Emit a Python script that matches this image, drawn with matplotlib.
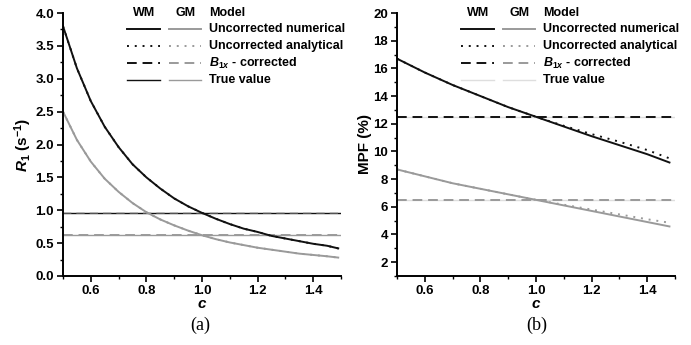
import numpy as np
import matplotlib.pyplot as plt
from matplotlib.lines import Line2D

plt.rcParams['font.family'] = ['Liberation Sans', 'DejaVu Sans']
plt.rcParams['mathtext.fontset'] = 'custom'
plt.rcParams['mathtext.rm'] = 'Liberation Sans:bold'
plt.rcParams['mathtext.it'] = 'Liberation Sans:italic:bold'
plt.rcParams['mathtext.bf'] = 'Liberation Sans:bold'

# panel (a): R1 vs c
c_a = [0.50, 0.55, 0.60, 0.65, 0.70, 0.75, 0.80, 0.85, 0.90, 0.95, 1.00,
       1.05, 1.10, 1.15, 1.20, 1.25, 1.30, 1.35, 1.40, 1.45, 1.49]
r1_wm_num = [3.80, 3.16, 2.66, 2.27, 1.96, 1.70, 1.50, 1.33, 1.18, 1.06, 0.96,
             0.87, 0.79, 0.72, 0.67, 0.61, 0.57, 0.53, 0.49, 0.46, 0.42]
r1_gm_num = [2.50, 2.07, 1.74, 1.48, 1.28, 1.11, 0.97, 0.86, 0.77, 0.69, 0.62,
             0.56, 0.51, 0.47, 0.43, 0.40, 0.37, 0.34, 0.32, 0.30, 0.28]
r1_wm_ana = r1_wm_num
r1_gm_ana = r1_gm_num
r1_wm_b1 = 0.96
r1_gm_b1 = 0.62
r1_wm_true = 0.96
r1_gm_true = 0.62

# panel (b): MPF vs c
c_b = [0.50, 0.60, 0.70, 0.80, 0.90, 1.00, 1.10, 1.20, 1.30, 1.40, 1.48]
mpf_wm_num = [16.7, 15.7, 14.8, 14.0, 13.2, 12.5, 11.8, 11.1, 10.45, 9.8, 9.2]
mpf_wm_ana = [16.7, 15.7, 14.8, 14.0, 13.2, 12.5, 11.85, 11.25, 10.7, 10.1, 9.5]
mpf_gm_num = [8.7, 8.2, 7.7, 7.3, 6.9, 6.5, 6.1, 5.7, 5.3, 4.9, 4.58]
mpf_gm_ana = [8.7, 8.2, 7.7, 7.3, 6.9, 6.5, 6.15, 5.8, 5.45, 5.1, 4.85]
mpf_wm_b1 = 12.5
mpf_gm_b1 = 6.5
mpf_wm_true = 12.5
mpf_gm_true = 6.5

black = '#111111'
gray = '#9a9a9a'
faint = '#dedede'
dot = (0, (1, 3))
dash = (0, (5, 3))

fig = plt.figure(figsize=(6.91, 3.45), dpi=100)
ax1 = fig.add_axes([63 / 691, 69 / 345, 278 / 691, 263 / 345])
ax2 = fig.add_axes([397 / 691, 69 / 345, 278 / 691, 263 / 345])


def style_axes(ax):
    for s in ['top', 'right']:
        ax.spines[s].set_visible(False)
    for s in ['left', 'bottom']:
        ax.spines[s].set_linewidth(1.4)
    ax.tick_params(which='major', direction='out', length=4, width=1.2,
                   labelsize=9.5, pad=2.5)
    ax.tick_params(which='minor', direction='out', length=2.5, width=1.0)
    for lab in ax.get_xticklabels() + ax.get_yticklabels():
        lab.set_fontweight('bold')
    ax.set_xlim(0.5, 1.5)
    ax.set_xticks([0.6, 0.8, 1.0, 1.2, 1.4])
    ax.set_xticks(np.arange(0.5, 1.51, 0.1), minor=True)
    ax.set_xlabel(r'$c$', fontsize=11, labelpad=0)


def draw_legend(ax, true_wm, true_gm):
    tr = ax.transAxes
    kw = dict(transform=tr, fontsize=9, fontweight='bold', va='center')
    ax.text(0.29, 1.0, 'WM', ha='center', **kw)
    ax.text(0.44, 1.0, 'GM', ha='center', **kw)
    ax.text(0.525, 1.0, 'Model', ha='left', **kw)
    rows = [('Uncorrected numerical', '-', black, gray, 1.4),
            ('Uncorrected analytical', dot, black, gray, 1.4),
            (r'$B_{1x}$ - corrected', dash, black, gray, 1.4),
            ('True value', '-', true_wm, true_gm, 1.0)]
    ys = [0.94, 0.875, 0.81, 0.745]
    for (label, ls, cw, cg, lw), y in zip(rows, ys):
        ax.add_line(Line2D([0.23, 0.35], [y, y], transform=tr, color=cw,
                           ls=ls, lw=lw, clip_on=False))
        ax.add_line(Line2D([0.38, 0.495], [y, y], transform=tr, color=cg,
                           ls=ls, lw=lw, clip_on=False))
        ax.text(0.525, y, label, ha='left', **kw)


# (a)
ax1.axhline(r1_wm_true, color=black, lw=1.0)
ax1.axhline(r1_gm_true, color=gray, lw=1.0)
ax1.axhline(r1_wm_b1, color=gray, lw=1.2, ls=dash, alpha=0.6)
ax1.axhline(r1_gm_b1, color=gray, lw=1.4, ls=dash)
ax1.plot(c_a, r1_wm_num, color=black, lw=1.4)
ax1.plot(c_a, r1_wm_ana, color=black, lw=1.4, ls=dot)
ax1.plot(c_a, r1_gm_num, color=gray, lw=1.4)
ax1.plot(c_a, r1_gm_ana, color=gray, lw=1.4, ls=dot)
ax1.set_ylim(0, 4.0)
ax1.set_yticks(np.arange(0, 4.01, 0.5))
ax1.set_yticks(np.arange(0, 4.01, 0.25), minor=True)
ax1.yaxis.set_major_formatter(plt.FormatStrFormatter('%.1f'))
ax1.set_ylabel(r'$R_1$ (s$^{-1}$)', fontsize=11, fontweight='bold',
               labelpad=1)
style_axes(ax1)
draw_legend(ax1, black, gray)

# (b)
ax2.axhline(mpf_wm_true, color=faint, lw=1.0)
ax2.axhline(mpf_gm_true, color=faint, lw=1.0)
ax2.axhline(mpf_wm_b1, color=black, lw=1.4, ls=dash)
ax2.axhline(mpf_gm_b1, color=gray, lw=1.4, ls=dash)
ax2.plot(c_b, mpf_wm_num, color=black, lw=1.4)
ax2.plot(c_b, mpf_wm_ana, color=black, lw=1.4, ls=dot)
ax2.plot(c_b, mpf_gm_num, color=gray, lw=1.4)
ax2.plot(c_b, mpf_gm_ana, color=gray, lw=1.4, ls=dot)
ax2.set_ylim(1, 20)
ax2.set_yticks(np.arange(2, 20.1, 2))
ax2.set_yticks(np.arange(1, 20.1, 1), minor=True)
ax2.set_ylabel('MPF (%)', fontsize=11, fontweight='bold', labelpad=1)
style_axes(ax2)
draw_legend(ax2, faint, faint)

fig.text(200 / 691, 1 - 325 / 345, '(a)', ha='center', va='center',
         fontsize=13, family='Liberation Serif')
fig.text(537 / 691, 1 - 325 / 345, '(b)', ha='center', va='center',
         fontsize=13, family='Liberation Serif')

fig.savefig('out.png', dpi=100)
